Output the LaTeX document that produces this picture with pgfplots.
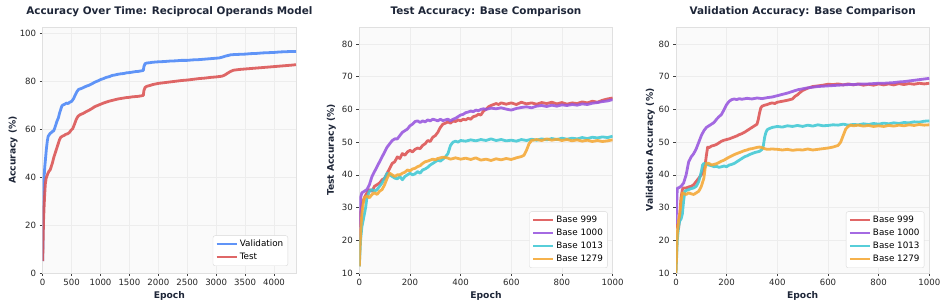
\documentclass[border=0pt]{standalone}
\usepackage{fontspec}
\setmainfont{DejaVu Sans}
\usepackage{pgfplots}
\pgfplotsset{compat=1.18}
\definecolor{cval}{RGB}{74,134,247}
\definecolor{ctest}{RGB}{219,82,82}
\definecolor{cred}{RGB}{221,82,82}
\definecolor{cpur}{RGB}{152,86,222}
\definecolor{ccya}{RGB}{64,200,212}
\definecolor{cora}{RGB}{245,168,52}
\definecolor{ctitle}{RGB}{30,38,56}
\pgfplotsset{
  myax/.style={
    scale only axis, width=253.3pt, height=246pt, anchor=south west,
    /pgf/number format/assume math mode=true,
    /pgf/number format/set thousands separator={},
    axis background/.style={fill=black!2},
    axis line style={color=black!12, line width=0.8pt},
    grid=major, grid style={color=black!7, line width=0.5pt},
    tick align=outside, major tick length=3pt,
    tick style={color=black!75, line width=0.6pt},
    xtick pos=bottom, ytick pos=left,
    ticklabel style={font=\fontsize{8.6}{10}\selectfont, color=black!85},
    every axis title/.style={at={(axis description cs:0.5,1)}, anchor=base, yshift=12pt, font=\fontsize{10.4}{12}\selectfont\bfseries, color=ctitle},
    every axis x label/.style={at={(axis description cs:0.5,0)}, anchor=base, yshift=-26pt, font=\fontsize{9.2}{11}\selectfont\bfseries, color=ctitle},
    legend style={at={(1,0)}, anchor=south east, xshift=-5pt, yshift=5pt, draw=black!15, fill=white, rounded corners=2pt, font=\fontsize{8.8}{10}\selectfont, row sep=1pt, inner sep=2.5pt, cells={anchor=west}},
    legend image code/.code={\draw[#1, line width=2.3pt] (0pt,0pt) -- (20pt,0pt);},
    every axis plot/.append style={line width=2.8pt, opacity=0.88, line join=round},
  },
  ylab/.style={every axis y label/.style={at={(axis description cs:#1,0.5)}, anchor=base, rotate=90, font=\fontsize{9.2}{11}\selectfont\bfseries, color=ctitle}},
}
\begin{document}
\begin{tikzpicture}
\useasboundingbox (0,0) rectangle (947pt,307pt);
% Panel 1
\begin{axis}[myax, at={(42.7pt,34pt)},
  xmin=0, xmax=4380, ymin=0, ymax=102.5,
  xtick={0,500,...,4000}, ytick={0,20,...,100},
  title={Accuracy Over Time: Reciprocal Operands Model},
  xlabel={Epoch},
  ylabel={Accuracy (\%)}, ylab=-0.107,
  legend style={xshift=-3pt, yshift=2pt},
]
\addplot[cval] coordinates {(0,5) (8,20) (15,32) (25,40) (35,44) (50,48) (65,52) (80,55) (95,57) (110,57.5) (130,58.2) (150,58.5) (170,59) (190,59.2) (210,60.5) (230,62) (250,63.5) (270,64.5) (290,66.5) (310,68) (330,69.5) (350,70) (380,70.3) (410,70.8) (440,70.6) (470,71.2) (500,71.5) (530,72.5) (560,74) (590,75.5) (620,76.5) (660,76.8) (700,77.2) (750,77.8) (800,78.2) (850,78.8) (900,79.5) (950,80) (1000,80.6) (1050,81) (1100,81.5) (1150,81.8) (1200,82.3) (1250,82.5) (1300,82.8) (1350,83) (1400,83.1) (1450,83.4) (1500,83.5) (1550,83.7) (1600,83.9) (1650,84) (1700,84.2) (1740,84.4) (1750,86) (1770,87.2) (1800,87.5) (1850,87.6) (1900,87.8) (2000,88) (2100,88.1) (2200,88.3) (2300,88.4) (2400,88.6) (2500,88.6) (2600,88.8) (2700,88.9) (2800,89.1) (2900,89.3) (3000,89.5) (3050,89.6) (3100,89.9) (3150,90.3) (3200,90.6) (3250,90.9) (3300,91) (3400,91.1) (3500,91.2) (3600,91.4) (3700,91.5) (3800,91.7) (3900,91.8) (4000,91.9) (4100,92.1) (4200,92.2) (4300,92.3) (4380,92.3)};
\addlegendentry{Validation}
\addplot[ctest] coordinates {(0,5) (8,15) (15,22) (25,28) (35,33) (45,37) (60,39.5) (75,40.5) (90,41.5) (110,42.5) (130,43) (150,44.5) (170,46) (190,48) (210,49.5) (230,51) (250,52.5) (270,54) (290,55.5) (310,56.5) (340,57) (370,57.3) (400,57.8) (430,58) (460,58.5) (490,59.5) (520,60.2) (550,62) (580,64) (610,65.3) (650,66) (700,66.5) (750,67.2) (800,67.8) (850,68.5) (900,69.3) (950,69.8) (1000,70.3) (1050,70.8) (1100,71.2) (1150,71.6) (1200,71.9) (1250,72.2) (1300,72.5) (1350,72.7) (1400,72.9) (1450,73.1) (1500,73.2) (1550,73.4) (1600,73.5) (1650,73.6) (1700,73.8) (1740,74) (1750,76) (1770,77.3) (1800,77.8) (1850,78.1) (1900,78.5) (2000,79) (2100,79.3) (2200,79.6) (2300,79.9) (2400,80.2) (2500,80.4) (2600,80.7) (2700,81) (2800,81.2) (2900,81.5) (3000,81.7) (3100,82) (3150,82.5) (3200,83.3) (3250,84) (3300,84.5) (3400,84.8) (3500,85) (3600,85.2) (3700,85.4) (3800,85.6) (3900,85.8) (4000,86) (4100,86.2) (4200,86.4) (4300,86.6) (4380,86.8)};
\addlegendentry{Test}
\end{axis}
% Panel 2
\begin{axis}[myax, at={(359.3pt,34pt)},
  xmin=0, xmax=1000, ymin=10, ymax=85.2,
  xtick={0,200,...,1000}, ytick={10,20,...,80},
  title={Test Accuracy: Base Comparison},
  xlabel={Epoch},
  ylabel={Test Accuracy (\%)}, ylab=-0.10,
]
\addplot[cred] coordinates {(0,24) (5,28) (10,31) (20,33) (30,34.5) (40,35.5) (50,35) (60,36.5) (70,37) (80,37.5) (90,38.5) (100,39) (110,40.5) (120,42) (130,43.5) (140,44) (150,45.5) (160,45) (170,46.5) (180,46) (190,47) (200,47.5) (210,47) (220,47.8) (230,48.2) (240,48) (250,49) (260,49.5) (270,50.5) (280,50.2) (290,51.5) (300,52) (310,53) (320,54.5) (330,55.5) (340,55.8) (350,56.2) (360,55.8) (370,56.5) (380,56.3) (390,56.8) (400,56.5) (410,57) (420,56.8) (430,57.3) (440,57) (450,57.8) (460,58) (470,58.5) (480,58.3) (490,59.5) (500,60) (510,60.8) (520,61.2) (530,61.5) (540,61.8) (550,61.5) (560,62) (580,61.6) (600,62) (620,61.5) (640,62.2) (660,61.7) (680,62) (700,61.6) (720,62.1) (740,61.8) (760,62.2) (780,61.7) (800,62.1) (820,61.6) (840,62) (860,61.8) (880,62.3) (900,62) (920,62.5) (940,62.2) (960,62.8) (980,63.2) (1000,63.5)};
\addlegendentry{Base 999}
\addplot[cpur] coordinates {(0,20) (5,33) (10,34.5) (20,35) (30,35.5) (40,37) (50,39.5) (60,41) (70,42.5) (80,44) (90,45.5) (100,47) (110,48.5) (120,49.5) (130,50.5) (140,51) (150,51) (160,52) (170,53) (180,53.5) (190,54) (200,55) (210,55.5) (220,56.3) (230,56.5) (240,56) (250,56.5) (260,56.2) (270,56.8) (280,56.5) (290,57) (300,56.8) (310,56.5) (320,57) (330,56.6) (340,56.8) (350,57) (360,56.5) (370,57) (380,57.3) (390,57.8) (400,58.3) (410,58.5) (420,59) (430,59.2) (440,59.5) (450,59.3) (460,59.8) (470,59.6) (480,60) (490,60.2) (500,60) (520,60.4) (540,60.2) (560,60.5) (580,60.1) (600,59.8) (620,60.3) (640,60.6) (660,60.8) (680,60.5) (700,61) (720,61.2) (740,60.9) (760,61.3) (780,61) (800,61.4) (820,61.2) (840,61.5) (860,61.3) (880,61.7) (900,61.5) (920,61.9) (940,62.1) (960,62.4) (980,62.6) (1000,63)};
\addlegendentry{Base 1000}
\addplot[ccya] coordinates {(0,12) (5,20) (10,24) (15,26) (20,28) (25,30) (30,33) (40,35) (50,35.5) (60,35) (70,35.5) (80,36.5) (90,37.5) (100,39) (110,40.5) (120,40) (130,39.5) (140,39) (150,38.8) (160,39.5) (170,38.5) (180,39.5) (190,40) (200,40.5) (210,40) (220,40.3) (230,41) (240,40.5) (250,41.5) (260,41.8) (270,42.3) (280,43) (290,43.5) (300,44) (310,44.5) (320,44.2) (330,44.8) (340,45.5) (350,46.5) (360,49) (370,50) (380,50.3) (390,50) (400,50.5) (420,50.3) (440,50.7) (460,50.4) (480,50.8) (500,50.5) (520,51) (540,50.5) (560,50.8) (580,50.4) (600,50.6) (620,50.3) (640,50.8) (660,50.5) (680,50.9) (700,50.6) (720,51) (740,50.7) (760,51.1) (780,50.8) (800,51.2) (820,50.9) (840,51.2) (860,51) (880,51.4) (900,51.1) (920,51.5) (940,51.3) (960,51.6) (980,51.4) (1000,51.8)};
\addlegendentry{Base 1013}
\addplot[cora] coordinates {(0,12) (5,22) (10,28) (15,31) (20,33) (30,33.5) (40,33) (50,34) (60,34.5) (70,34) (80,35) (90,35.5) (100,37) (110,39) (120,40.5) (130,40) (140,39.5) (150,40) (160,40) (170,40.5) (180,40.8) (190,41.5) (200,41.2) (210,41.8) (220,42) (230,42.5) (240,42.8) (250,43.5) (260,44) (270,44.2) (280,44.5) (290,44.8) (300,44.6) (310,45) (320,45.2) (330,45.4) (340,45.3) (350,45.1) (360,44.8) (370,45) (380,45.2) (400,44.8) (420,45.1) (440,44.7) (460,45.2) (480,44.5) (500,44.8) (520,44.4) (540,44.9) (560,44.6) (580,45) (600,44.7) (620,45.2) (640,45.6) (650,46) (660,47.5) (670,49.5) (680,50.5) (700,50.8) (720,50.5) (740,51) (760,50.6) (780,50.9) (800,50.5) (820,50.8) (840,50.4) (860,50.7) (880,50.3) (900,50.6) (920,50.2) (940,50.5) (960,50.2) (980,50.4) (1000,50.7)};
\addlegendentry{Base 1279}
\end{axis}
% Panel 3
\begin{axis}[myax, at={(676pt,34pt)},
  xmin=0, xmax=1000, ymin=10, ymax=85.2,
  xtick={0,200,...,1000}, ytick={10,20,...,80},
  title={Validation Accuracy: Base Comparison},
  xlabel={Epoch},
  ylabel={Validation Accuracy (\%)}, ylab=-0.091,
]
\addplot[cred] coordinates {(0,25) (5,24) (10,23.5) (15,28) (20,33) (25,35.5) (30,36) (40,36) (50,36.3) (60,36.5) (70,37) (80,38) (90,39) (100,40) (110,41.5) (115,43) (120,46) (125,48.5) (130,48.3) (140,48.8) (150,49) (160,49.3) (170,49.8) (180,50.3) (190,50.6) (200,50.8) (210,51) (220,51.3) (230,51.6) (240,51.9) (250,52.3) (260,52.6) (270,53) (280,53.5) (290,54) (300,54.5) (310,55) (320,55.5) (325,57) (330,59) (335,60.5) (340,61) (350,61.3) (360,61.5) (370,61.8) (380,62) (390,61.8) (400,62.2) (420,62.5) (440,62.8) (460,63.2) (470,64) (480,64.5) (490,65.2) (500,65.8) (520,66.5) (540,67) (560,67.2) (580,67.4) (600,67.7) (620,67.6) (640,67.8) (660,67.5) (680,67.8) (700,67.5) (720,67.8) (740,67.4) (760,67.7) (780,67.4) (800,67.8) (820,67.5) (840,67.8) (860,67.5) (880,67.9) (900,67.6) (920,67.9) (940,67.7) (960,68) (980,67.8) (1000,68)};
\addlegendentry{Base 999}
\addplot[cpur] coordinates {(0,25) (5,36) (10,36) (20,36.5) (30,37.5) (40,40) (50,44) (60,45.5) (70,46.5) (80,48) (90,50) (100,52) (110,53.5) (120,54.5) (130,55) (140,55.5) (150,56) (160,57) (170,57.8) (180,58.5) (190,60) (200,61.5) (210,62.5) (220,63) (230,63.2) (240,63) (250,63.3) (260,63.1) (280,63.4) (300,63.2) (320,63.5) (340,63.3) (360,63.6) (380,63.8) (400,64.2) (420,64.6) (440,65) (460,65.5) (480,66) (500,66.3) (520,66.6) (540,66.8) (560,67) (580,67.1) (600,67.2) (620,67.3) (640,67.4) (660,67.5) (680,67.6) (700,67.6) (720,67.7) (740,67.8) (760,67.8) (780,67.9) (800,68) (820,68) (840,68.1) (860,68.2) (880,68.4) (900,68.5) (920,68.7) (940,68.9) (960,69.1) (980,69.3) (1000,69.5)};
\addlegendentry{Base 1000}
\addplot[ccya] coordinates {(0,10) (5,20) (10,24) (15,26) (20,26.5) (25,28) (30,32) (35,35) (40,35.2) (50,35.5) (60,35.8) (70,36) (80,36.5) (90,38) (100,41) (105,43) (110,43.5) (120,43.2) (130,43) (140,42.8) (150,42.5) (160,42.6) (170,42.3) (180,42.5) (190,42.7) (200,42.5) (210,43) (220,43.2) (230,43.5) (240,44) (250,44.5) (260,45) (270,45.5) (280,45.8) (290,46.2) (300,46.5) (310,46.8) (320,47) (330,47.2) (340,47.8) (345,49) (350,51.5) (355,53) (360,53.8) (370,54.2) (380,54.5) (400,54.8) (420,54.6) (440,55) (460,54.8) (480,55.1) (500,54.8) (520,55.2) (540,54.9) (560,55.3) (580,55) (600,55.1) (620,55.3) (640,55.2) (660,55.5) (680,55.2) (700,55.4) (720,55.3) (740,55.6) (760,55.4) (780,55.7) (800,55.5) (820,55.8) (840,55.6) (860,55.9) (880,55.7) (900,56) (920,55.9) (940,56.2) (960,56.1) (980,56.4) (1000,56.5)};
\addlegendentry{Base 1013}
\addplot[cora] coordinates {(0,10) (5,22) (10,26) (15,28) (20,32) (25,34.5) (30,34.3) (40,34) (50,34.5) (60,34.2) (70,34) (80,34.5) (90,35) (100,36.5) (110,39) (115,42) (120,43.6) (130,43.5) (140,43) (150,43.2) (160,43.4) (170,43.8) (180,44.2) (190,44.5) (200,45) (210,45.4) (220,45.8) (230,46.2) (240,46.5) (250,46.8) (260,47.1) (270,47.4) (280,47.6) (290,47.9) (300,48) (310,48.2) (320,48.4) (330,48.5) (340,48.3) (350,48) (360,47.8) (380,47.9) (400,47.8) (420,47.6) (440,47.8) (460,47.5) (480,47.7) (500,47.6) (520,47.9) (540,47.6) (560,47.8) (580,48) (600,48.2) (620,48.5) (640,49) (650,50) (660,52) (670,54) (680,54.8) (690,55.2) (700,55) (720,55.2) (740,54.9) (760,55.1) (780,54.8) (800,55) (820,54.8) (840,55.1) (860,54.9) (880,55.2) (900,55) (920,55.3) (940,55.1) (960,55.4) (980,55.2) (1000,55.3)};
\addlegendentry{Base 1279}
\end{axis}
\end{tikzpicture}
\end{document}
